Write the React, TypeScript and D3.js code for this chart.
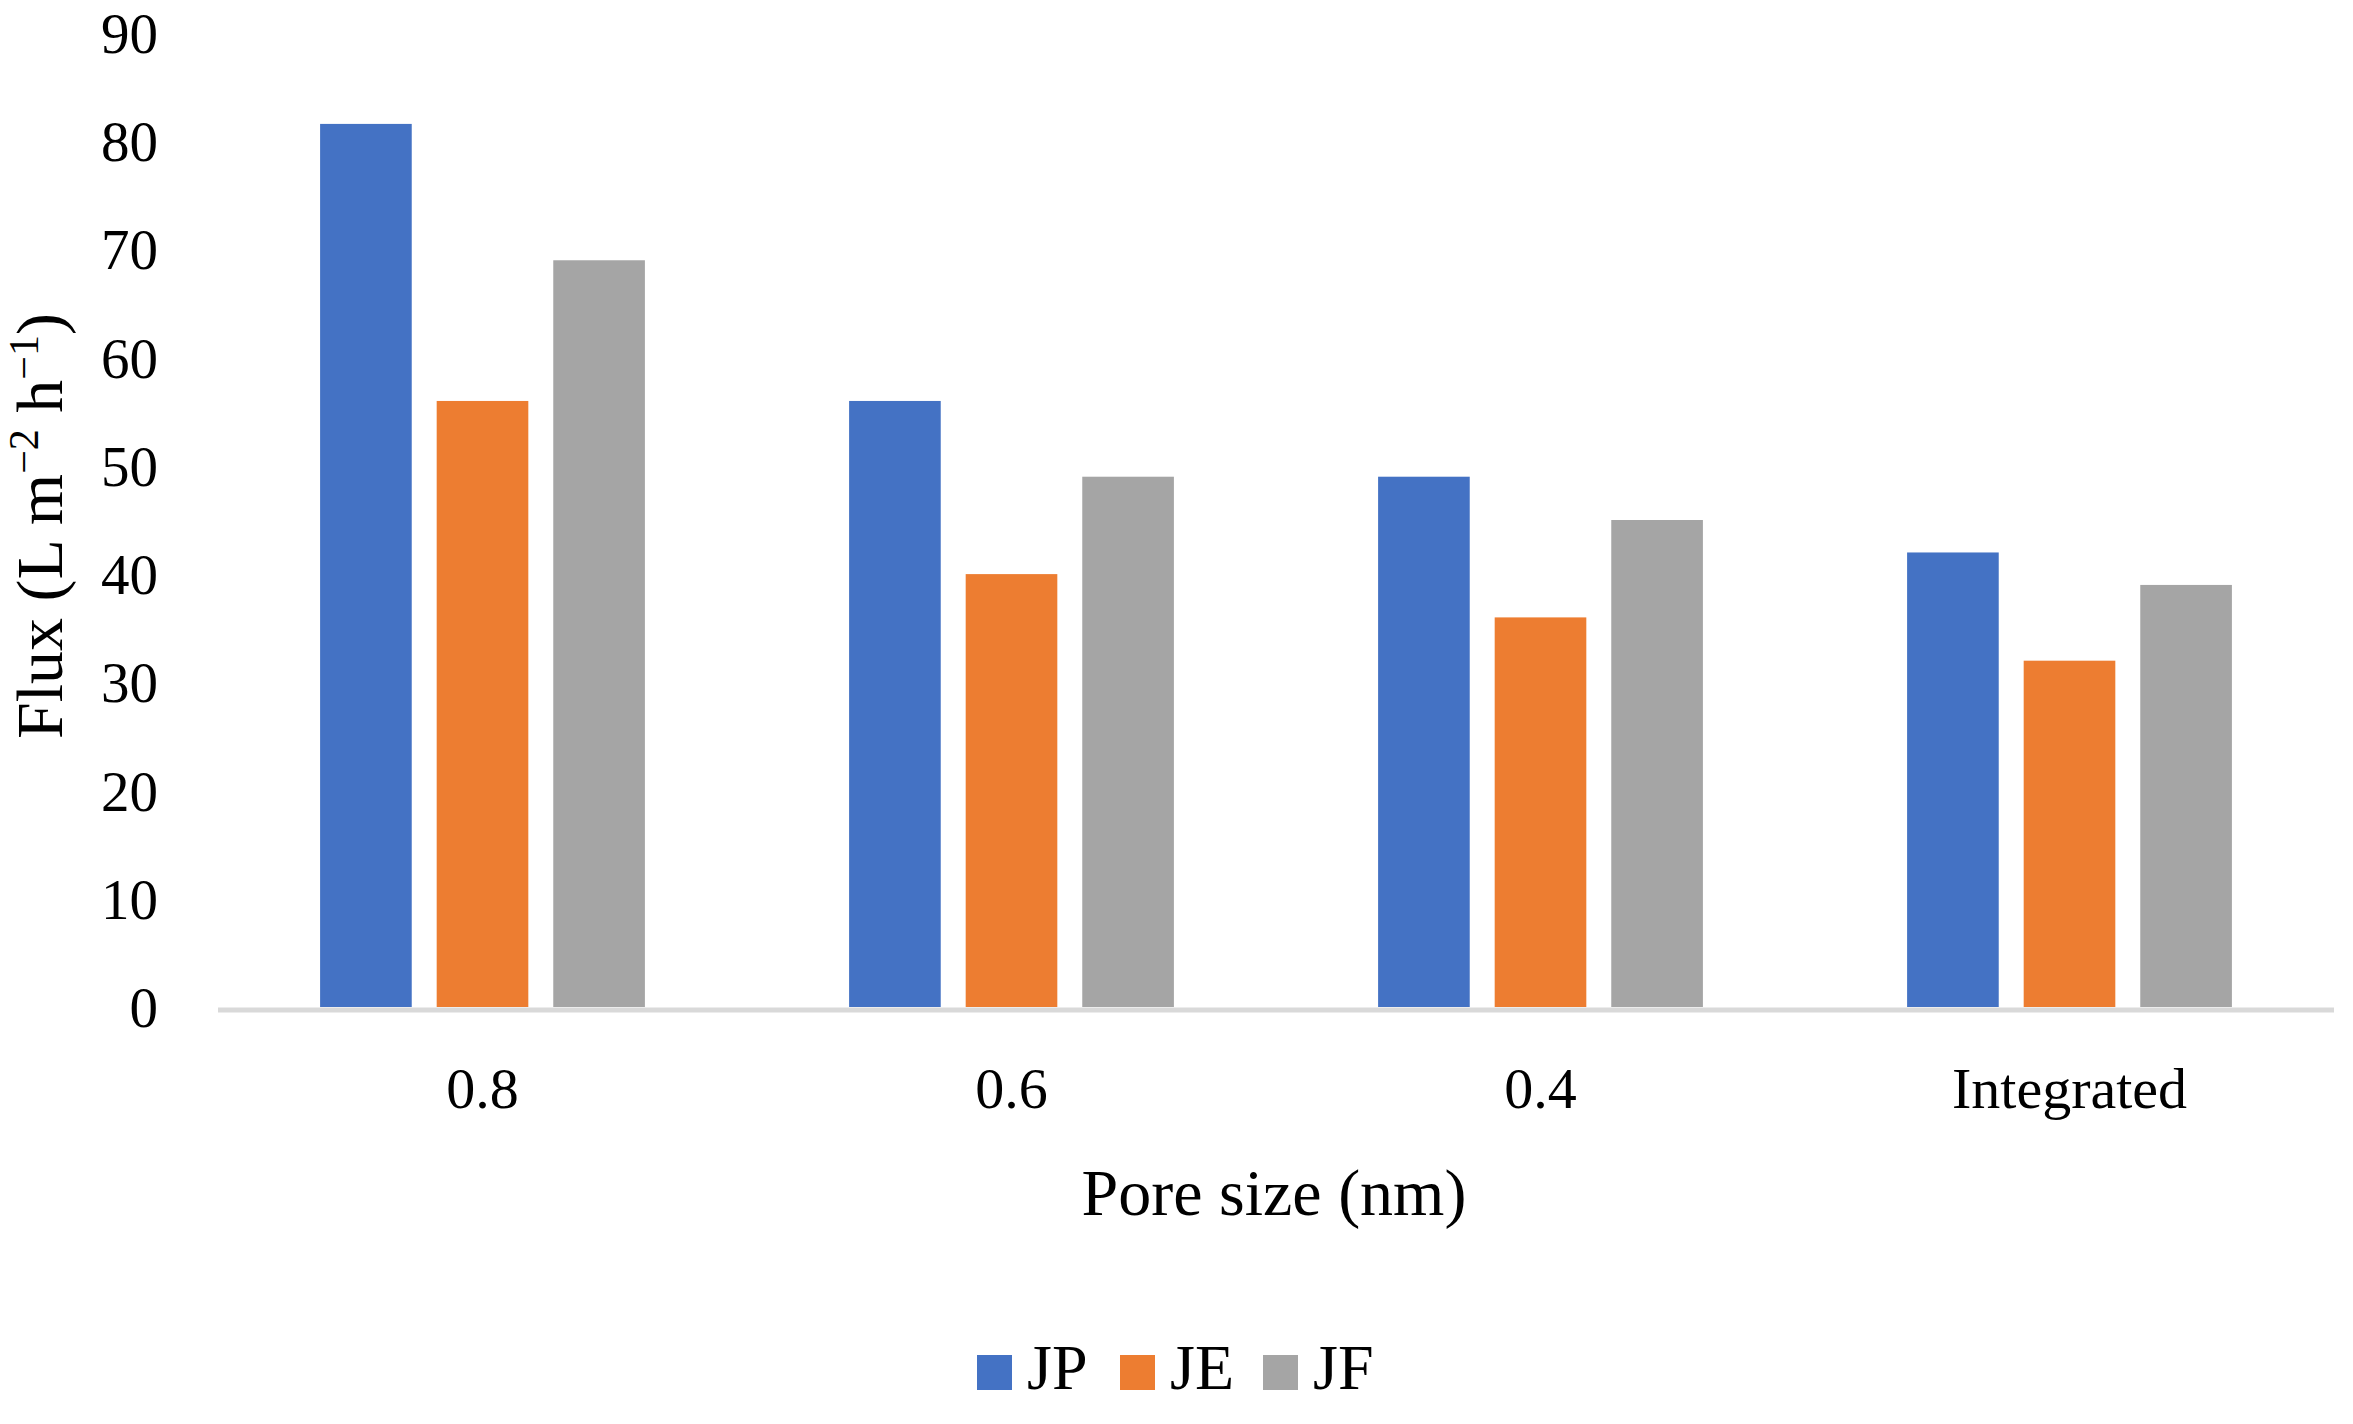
import { useEffect, useRef } from 'react';
import * as d3 from 'd3';

const categories = ['0.8', '0.6', '0.4', 'Integrated'];
const seriesNames = ['JP', 'JE', 'JF'];
const jpValues = [81.6, 56, 49, 42];
const jeValues = [56, 40, 36, 32];
const jfValues = [69, 49, 45, 39];
const yTicks = [0, 10, 20, 30, 40, 50, 60, 70, 80, 90];

const colors = ['#4472C4', '#ED7D31', '#A5A5A5'];
const FONT = '"Liberation Serif", "Times New Roman", serif';

export default function App() {
  const svgRef = useRef<SVGSVGElement>(null);

  useEffect(() => {
    if (!svgRef.current) return;
    const svg = d3.select(svgRef.current);
    svg.selectAll('*').remove();

    const W = 2353;
    const H = 1424;
    const left = 218;
    const right = 2334;
    const y0 = 1007;
    const yTop = 33;

    svg.append('rect').attr('width', W).attr('height', H).attr('fill', '#fff');

    const x = d3.scaleBand<string>()
      .domain(categories)
      .range([left, right])
      .paddingInner(0.386)
      .paddingOuter(0.193);

    const xInner = d3.scaleBand<string>()
      .domain(seriesNames)
      .range([0, x.bandwidth()])
      .paddingInner(0.214);

    const y = d3.scaleLinear().domain([0, 90]).range([y0, yTop]);

    const table = categories.map((c, i) => ({
      category: c,
      values: [jpValues[i], jeValues[i], jfValues[i]],
    }));

    // Bars
    const groups = svg.append('g')
      .selectAll('g')
      .data(table)
      .enter()
      .append('g')
      .attr('transform', d => `translate(${x(d.category)},0)`);

    groups.selectAll('rect')
      .data(d => d.values.map((v, k) => ({ name: seriesNames[k], value: v, k })))
      .enter()
      .append('rect')
      .attr('x', d => xInner(d.name)!)
      .attr('y', d => y(d.value))
      .attr('width', xInner.bandwidth())
      .attr('height', d => y0 - y(d.value))
      .attr('fill', d => colors[d.k]);

    // X axis line
    svg.append('line')
      .attr('x1', left).attr('x2', right)
      .attr('y1', y0 + 3).attr('y2', y0 + 3)
      .attr('stroke', '#D9D9D9')
      .attr('stroke-width', 5);

    // Y tick labels
    svg.append('g')
      .selectAll('text')
      .data(yTicks)
      .enter()
      .append('text')
      .attr('x', 158)
      .attr('y', d => y(d))
      .attr('dy', '0.35em')
      .attr('text-anchor', 'end')
      .attr('font-family', FONT)
      .attr('font-size', 57)
      .attr('fill', '#000')
      .text(d => d);

    // X tick labels
    svg.append('g')
      .selectAll('text')
      .data(categories)
      .enter()
      .append('text')
      .attr('x', d => x(d)! + x.bandwidth() / 2)
      .attr('y', 1108)
      .attr('text-anchor', 'middle')
      .attr('font-family', FONT)
      .attr('font-size', 58)
      .attr('fill', '#000')
      .text(d => d);

    // X axis title
    svg.append('text')
      .attr('x', 1274)
      .attr('y', 1215)
      .attr('text-anchor', 'middle')
      .attr('font-family', FONT)
      .attr('font-size', 66)
      .attr('fill', '#000')
      .text('Pore size (nm)');

    // Y axis title
    const yt = svg.append('text')
      .attr('transform', `translate(62,${526}) rotate(-90)`)
      .attr('text-anchor', 'middle')
      .attr('font-family', FONT)
      .attr('font-size', 66)
      .attr('fill', '#000');
    yt.append('tspan').text('Flux (L m');
    yt.append('tspan').attr('font-size', 42).attr('dy', -24).text('−2');
    yt.append('tspan').attr('dy', 24).text(' h');
    yt.append('tspan').attr('font-size', 42).attr('dy', -24).text('−1');
    yt.append('tspan').attr('dy', 24).text(')');

    // Legend
    const legend = svg.append('g');
    const legendX = [977, 1120, 1263];
    seriesNames.forEach((name, k) => {
      legend.append('rect')
        .attr('x', legendX[k]).attr('y', 1355)
        .attr('width', 35).attr('height', 35)
        .attr('fill', colors[k]);
      legend.append('text')
        .attr('x', legendX[k] + 50)
        .attr('y', 1389)
        .attr('font-family', FONT)
        .attr('font-size', 64)
        .attr('fill', '#000')
        .text(name);
    });
  }, []);

  return (
    <div>
      <style>{`body { margin: 0; }`}</style>
      <svg ref={svgRef} width={2353} height={1424} style={{ display: 'block' }} />
    </div>
  );
}
